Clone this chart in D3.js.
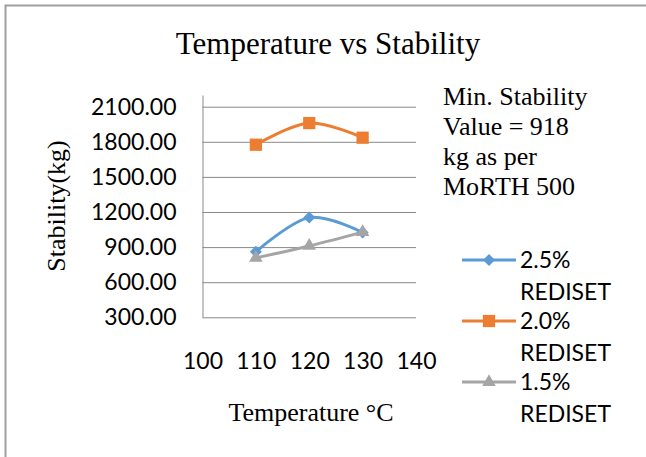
<!DOCTYPE html>
<html>
<head>
<meta charset="utf-8">
<script src="https://cdnjs.cloudflare.com/ajax/libs/d3/7.8.5/d3.min.js"></script>
<style>
  body { margin: 0; background: #fff; }
  .serif { font-family: "Liberation Serif", "Times New Roman", serif; fill: #000; }
  .sans { font-family: Lato, "Liberation Sans", sans-serif; fill: #000; }
</style>
</head>
<body>
<svg id="svg" width="646" height="457"></svg>
<script>
// data
var temps = [110, 120, 130];
var seriesNames = ["2.5% REDISET", "2.0% REDISET", "1.5% REDISET"];
var rediset25 = [860, 1152, 1025];
var rediset20 = [1775, 1960, 1835];
var rediset15 = [808, 910, 1028];
var yTicks = [300, 600, 900, 1200, 1500, 1800, 2100];
var xTicks = [100, 110, 120, 130, 140];
var noteLines = ["Min. Stability", "Value = 918", "kg as per", "MoRTH 500"];

var colors = ["#5B9BD5", "#ED7D31", "#A5A5A5"];
var symbols = [d3.symbolSquare, d3.symbolSquare, d3.symbolTriangle];
var symSizes = [72, 150, 80];
var symRot = [45, 0, 0];

var svg = d3.select("#svg");

// outer frame (only left/top visible in the crop)
svg.append("rect")
    .attr("x", 5.5).attr("y", 5.5)
    .attr("width", 700).attr("height", 500)
    .attr("fill", "none")
    .attr("stroke", "#a0a0a0")
    .attr("stroke-width", 2);

var xScale = d3.scaleLinear().domain([100, 140]).range([202.5, 416]);
var yScale = d3.scaleLinear().domain([300, 2200]).range([317.3, 95]);

// y axis + gridlines
var yAxis = svg.append("g")
    .attr("transform", "translate(" + xScale(100) + ",0)")
    .call(d3.axisLeft(yScale)
        .tickValues(yTicks)
        .tickSizeInner(-(xScale(140) - xScale(100)))
        .tickSizeOuter(0)
        .tickPadding(26)
        .tickFormat(d3.format(".2f")));
yAxis.selectAll("line").attr("stroke", "#898989");
yAxis.select(".domain").attr("stroke", "#898989");
yAxis.selectAll("text").attr("class", "sans").style("font-size", "23px");

// x axis labels (no line)
var xAxis = svg.append("g")
    .attr("transform", "translate(0," + yScale(300) + ")")
    .call(d3.axisBottom(xScale).tickValues(xTicks).tickSize(0).tickPadding(35));
xAxis.select(".domain").remove();
xAxis.selectAll("text").attr("class", "sans").style("font-size", "23px");

// lines
var allSeries = [rediset25, rediset20, rediset15];
var line = d3.line()
    .x(function(d, i) { return xScale(temps[i]); })
    .y(function(d) { return yScale(d); })
    .curve(d3.curveCardinal);

allSeries.forEach(function(s, k) {
    svg.append("path")
        .attr("d", line(s))
        .attr("fill", "none")
        .attr("stroke", colors[k])
        .attr("stroke-width", 3)
        .attr("stroke-linejoin", "round");
});
allSeries.forEach(function(s, k) {
    svg.selectAll(".m" + k)
        .data(s)
        .enter()
        .append("path")
        .attr("class", "m" + k)
        .attr("transform", function(d, i) {
            return "translate(" + xScale(temps[i]) + "," + yScale(d) + ") rotate(" + symRot[k] + ")";
        })
        .attr("d", d3.symbol().type(symbols[k]).size(symSizes[k]))
        .attr("fill", colors[k]);
});

// titles
svg.append("text")
    .attr("class", "serif")
    .attr("x", 328).attr("y", 54)
    .attr("text-anchor", "middle")
    .style("font-size", "31px")
    .text("Temperature vs Stability");

svg.append("text")
    .attr("class", "serif")
    .attr("transform", "translate(65,206) rotate(-90)")
    .attr("text-anchor", "middle")
    .style("font-size", "26px")
    .text("Stability(kg)");

svg.append("text")
    .attr("class", "serif")
    .attr("x", 311).attr("y", 421)
    .attr("text-anchor", "middle")
    .style("font-size", "26px")
    .text("Temperature \u00B0C");

// note
svg.append("g").selectAll("text")
    .data(noteLines)
    .enter()
    .append("text")
    .attr("class", "serif")
    .attr("x", 443)
    .attr("y", function(d, i) { return 105 + i * 30; })
    .style("font-size", "26px")
    .text(function(d) { return d; });

// legend
var legend = svg.append("g").selectAll("g")
    .data(seriesNames)
    .enter()
    .append("g")
    .attr("transform", function(d, i) { return "translate(462," + (260 + i * 61) + ")"; });
legend.append("line")
    .attr("x1", 0).attr("x2", 54)
    .attr("stroke", function(d, i) { return colors[i]; })
    .attr("stroke-width", 3);
legend.append("path")
    .attr("transform", function(d, i) { return "translate(27,0) rotate(" + symRot[i] + ")"; })
    .attr("d", function(d, i) { return d3.symbol().type(symbols[i]).size(symSizes[i])(); })
    .attr("fill", function(d, i) { return colors[i]; });
legend.each(function(d) {
    var parts = d.split(" ");
    var t = d3.select(this).append("text")
        .attr("class", "sans")
        .style("font-size", "23px");
    parts.forEach(function(p, j) {
        t.append("tspan")
            .attr("x", 58)
            .attr("y", 8 + j * 32)
            .text(p);
    });
});
</script>
</body>
</html>
